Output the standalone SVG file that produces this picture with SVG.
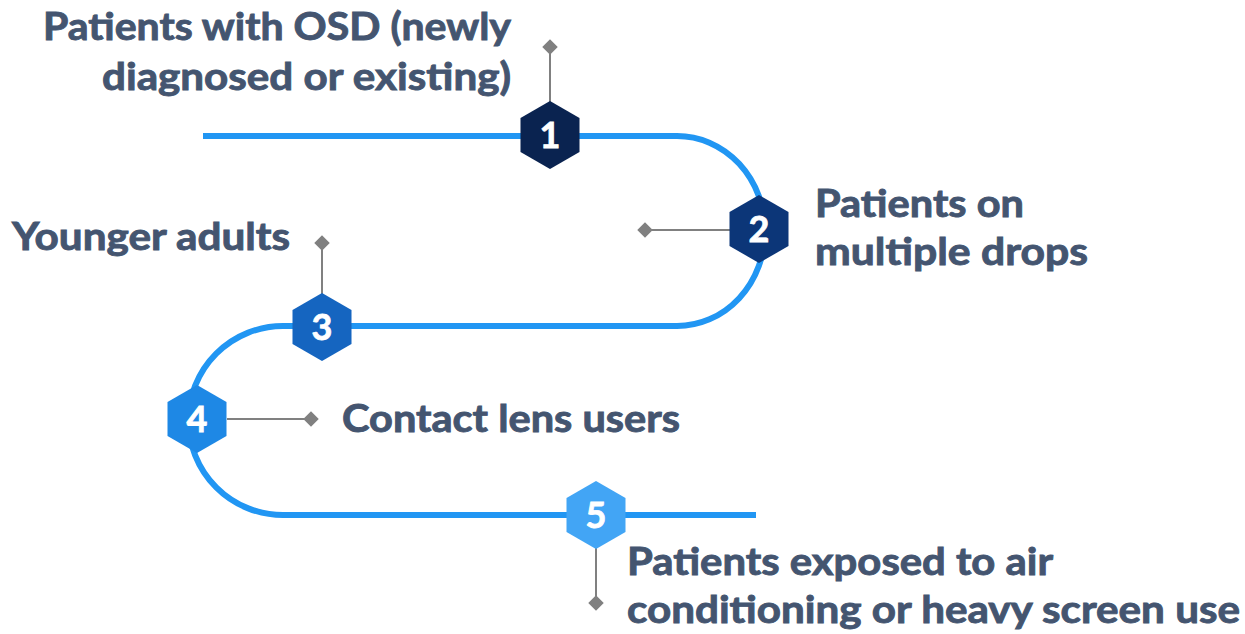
<svg xmlns="http://www.w3.org/2000/svg" width="1245" height="634" viewBox="0 0 1245 634">
<style>
.path{fill:none;stroke:#2196F3;stroke-width:6}
.conn{fill:none;stroke:#808080;stroke-width:2}
.dia{fill:#808080}
.lbl{font-family:Lato,"Liberation Sans",sans-serif;font-weight:700;font-size:38px;fill:#445570;stroke:#445570;stroke-width:0.9}
.num{font-family:Lato,"Liberation Sans",sans-serif;font-weight:700;font-size:36px;fill:#ffffff;stroke:#ffffff;stroke-width:0.8;text-anchor:middle}
</style>
<defs>
<polygon id="hex" points="0,-34 29.5,-17 29.5,17 0,34 -29.5,17 -29.5,-17"/>
<rect id="dm" x="-5.5" y="-5.5" width="11" height="11" transform="rotate(45)"/>
</defs>
<rect width="1245" height="634" fill="#ffffff"/>
<g id="track">
<path class="path" d="M203,136 H677 A88,95 0 0 1 677,326 H283 A94.5,94.5 0 0 0 283,515 H756"/>
</g>
<g id="connectors">
<line class="conn" x1="550" y1="47" x2="550" y2="102"/>
<use href="#dm" class="dia" x="550" y="47"/>
<line class="conn" x1="645" y1="230" x2="730" y2="230"/>
<use href="#dm" class="dia" x="645" y="230"/>
<line class="conn" x1="322" y1="243" x2="322" y2="294"/>
<use href="#dm" class="dia" x="322" y="243"/>
<line class="conn" x1="227" y1="419" x2="311" y2="419"/>
<use href="#dm" class="dia" x="311" y="419"/>
<line class="conn" x1="596" y1="548" x2="596" y2="603"/>
<use href="#dm" class="dia" x="596" y="603"/>
</g>
<g id="node1">
<use href="#hex" x="550" y="135" fill="#0A2350"/>
<text class="num" x="550" y="148">1</text>
<text class="lbl" text-anchor="end" x="511" y="40" textLength="468" lengthAdjust="spacingAndGlyphs">Patients with OSD (newly</text>
<text class="lbl" text-anchor="end" x="511" y="90" textLength="409" lengthAdjust="spacingAndGlyphs">diagnosed or existing)</text>
</g>
<g id="node2">
<use href="#hex" x="759" y="229" fill="#0C3678"/>
<text class="num" x="759" y="242">2</text>
<text class="lbl" x="815" y="217" textLength="209" lengthAdjust="spacingAndGlyphs">Patients on</text>
<text class="lbl" x="815" y="265" textLength="273" lengthAdjust="spacingAndGlyphs">multiple drops</text>
</g>
<g id="node3">
<use href="#hex" x="322" y="327" fill="#1565C0"/>
<text class="num" x="322" y="340">3</text>
<text class="lbl" x="12" y="250" textLength="278" lengthAdjust="spacingAndGlyphs">Younger adults</text>
</g>
<g id="node4">
<use href="#hex" x="197" y="419" fill="#1E88E5"/>
<text class="num" x="197" y="432">4</text>
<text class="lbl" x="342" y="432" textLength="338" lengthAdjust="spacingAndGlyphs">Contact lens users</text>
</g>
<g id="node5">
<use href="#hex" x="596" y="515" fill="#42A5F5"/>
<text class="num" x="596" y="528">5</text>
<text class="lbl" x="627" y="575" textLength="426" lengthAdjust="spacingAndGlyphs">Patients exposed to air</text>
<text class="lbl" x="627" y="623" textLength="613" lengthAdjust="spacingAndGlyphs">conditioning or heavy screen use</text>
</g>
</svg>
